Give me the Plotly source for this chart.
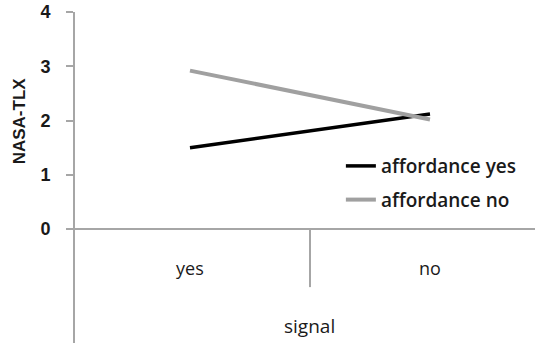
import plotly.graph_objects as go

categories = ["yes", "no"]
series_names = ["affordance yes", "affordance no"]
affordance_yes = [1.50, 2.12]
affordance_no = [2.92, 2.02]
y_ticks = [0, 1, 2, 3, 4]
x_title = "signal"
y_title = "NASA-TLX"

GRAY = "#a6a6a6"
FONT = "Open Sans, Liberation Sans, Arial, sans-serif"
BFONT = "Liberation Sans, Arial, sans-serif"

xpos = list(range(len(categories)))

fig = go.Figure()
fig.add_trace(go.Scatter(x=xpos, y=affordance_yes, mode="lines", name=series_names[0],
                         legendgroup="a", line=dict(color="#000000", width=3.5)))
fig.add_trace(go.Scatter(x=xpos, y=affordance_no, mode="lines", name=series_names[1],
                         legendgroup="b", line=dict(color="#a0a0a0", width=4)))

# category labels
for xi, c in zip(xpos, categories):
    fig.add_annotation(x=xi, y=-0.72, xref="x", yref="y", text=c, showarrow=False,
                       font=dict(family=FONT, size=18, color="#1a1a1a"))
# separator between categories
fig.add_shape(type="line", x0=0.5, x1=0.5, y0=0, y1=-1.07, xref="x", yref="y",
              line=dict(color=GRAY, width=2))
# axis titles
fig.add_annotation(x=0.5, y=-1.78, xref="x", yref="y", text=x_title, showarrow=False,
                   font=dict(family=FONT, size=19, color="#1a1a1a"))
fig.add_annotation(x=-0.12, y=2, xref="paper", yref="y", xanchor="center",
                   text="<b>" + y_title + "</b>", showarrow=False, textangle=-90,
                   font=dict(family=BFONT, size=17, color="#1a1a1a"))

fig.update_layout(
    width=535, height=347,
    margin=dict(l=75, r=0, t=12, b=4),
    plot_bgcolor="white", paper_bgcolor="white",
    showlegend=True,
    legend=dict(x=0.578, y=0.592, xanchor="left", yanchor="top",
                bgcolor="rgba(0,0,0,0)", traceorder="grouped", tracegroupgap=6,
                font=dict(family=FONT, size=19, color="#1a1a1a", weight=600)),
    xaxis=dict(range=[-0.479, 1.4375], showticklabels=False, showgrid=False,
               zeroline=False, showline=False, fixedrange=True),
    yaxis=dict(range=[-2.1, 4.0], tickvals=y_ticks, ticktext=[f"<b>{v}</b>" for v in y_ticks],
               showgrid=False, zeroline=True, zerolinecolor=GRAY, zerolinewidth=2,
               showline=True, linecolor=GRAY, linewidth=2,
               ticks="outside", ticklen=7, tickcolor=GRAY, tickwidth=2,
               ticklabelstandoff=12,
               tickfont=dict(family=BFONT, size=18, color="#1a1a1a")),
)

fig.write_html("out.html")
